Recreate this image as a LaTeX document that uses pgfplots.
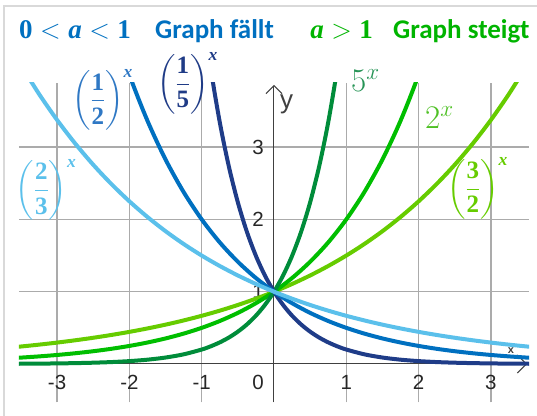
\RequirePackage{fix-cm}
\documentclass[border=0pt]{standalone}
\usepackage{amsmath}
\usepackage[no-math]{fontspec}
\setmainfont{Liberation Sans}
\newfontfamily\carlito{Carlito}
\newfontfamily\mathserif{Liberation Serif}
\usepackage{pgfplots}
\pgfplotsset{compat=1.18}
\usetikzlibrary{arrows.meta}
\definecolor{cLightBlue}{HTML}{5BC0EB}
\definecolor{cBlue}{HTML}{0070C0}
\definecolor{cNavy}{HTML}{1F3C88}
\definecolor{cDarkGreen}{HTML}{008C3A}
\definecolor{cGreen}{HTML}{00BE00}
\definecolor{cYellowGreen}{HTML}{66CC00}
\definecolor{lBlue}{HTML}{2F78C4}
\definecolor{lNavy}{HTML}{1F3B86}
\definecolor{lDarkGreen}{HTML}{269456}
\definecolor{lGreen}{HTML}{4EC024}
\definecolor{tBlue}{HTML}{0070C0}
\definecolor{tGreen}{HTML}{00B400}
\definecolor{gridgray}{HTML}{ABABAB}
\definecolor{axisgray}{HTML}{404040}
\definecolor{framegray}{HTML}{D9D9D9}
\definecolor{ticktext}{HTML}{262626}
\newcommand{\bvar}[1]{\text{\mathserif\bfseries\itshape #1}}
\newcommand{\bnum}[1]{\text{\mathserif\bfseries #1}}
\newcommand{\fraclab}[2]{$\biggl(\dfrac{\bnum{#1}}{\bnum{#2}}\biggr)^{\bvar{x}}$}
\tikzset{ticklab/.style={anchor=center, inner sep=0pt, text=ticktext, font=\fontsize{20.5}{24}\selectfont},
  yticklab/.style={anchor=east, inner sep=0pt, text=ticktext, font=\fontsize{20.5}{24}\selectfont},
  fraclabel/.style={anchor=center, inner sep=0pt, font=\fontsize{25}{30}\selectfont},
  powlabel/.style={anchor=base west, inner sep=0pt, font=\fontsize{33}{40}\selectfont},
  titlemath/.style={anchor=base west, inner sep=0pt, font=\fontsize{27}{32}\selectfont},
  titletext/.style={anchor=base west, inner sep=0pt, font=\carlito\bfseries\fontsize{27}{32}\selectfont}}
\pgfplotsset{base/.style={at={(0pt,0pt)}, anchor=south west,
  x=72.3pt, y=72.3pt,
  xmin=-3.53, xmax=3.53, ymin=-0.53, ymax=3.89}}
\begin{document}
\begin{tikzpicture}
% grid only
\begin{axis}[base,
  axis line style={draw=none},
  xtick={-3,-2,-1,1,2,3}, ytick={1,2,3},
  xticklabels={}, yticklabels={},
  major tick length=0pt,
  grid=major,
  grid style={line width=1.5pt, color=gridgray},
]
\addplot[draw=none, forget plot] coordinates {(0,0) (1,1)};
\end{axis}
% labels and axis lines under the curves
\begin{scope}[x=72.3pt, y=72.3pt, shift={(255.219pt,38.319pt)}]
\draw[framegray, line width=2.5pt] (-3.734,-1) -- (-3.734,4.952) -- (4,4.952);
\node[ticklab] at (-3,-0.249) {-3};
\node[ticklab] at (-2,-0.249) {-2};
\node[ticklab] at (-1,-0.249) {-1};
\node[ticklab] at (-0.221,-0.249) {0};
\node[ticklab] at (1,-0.249) {1};
\node[ticklab] at (2,-0.249) {2};
\node[ticklab] at (3,-0.249) {3};
\node[yticklab] at (-0.138,1) {1};
\node[yticklab] at (-0.138,2) {2};
\node[yticklab] at (-0.138,3) {3};
\draw[axisgray, line width=1pt, -{Straight Barb[length=9pt,width=18pt,line width=1pt]}] (-3.53,0) -- (3.5,0);
\draw[axisgray, line width=1pt, -{Straight Barb[length=8pt,width=16pt,line width=1pt]}] (0,-0.53) -- (0,3.86);
\node[anchor=base west, inner sep=0pt, text=axisgray, font=\fontsize{26}{30}\selectfont] at (0.083,3.54) {y};
\node[anchor=center, inner sep=0pt, text=axisgray, font=\bfseries\fontsize{11}{13}\selectfont] at (3.278,0.18) {x};
\end{scope}
% curves
\begin{axis}[base, hide axis]
\addplot[cYellowGreen, line width=4pt, smooth] coordinates {
(-3.53,0.2390) (-3.5,0.2419) (-3.25,0.2677) (-3,0.2963) (-2.75,0.3279) (-2.5,0.3629) (-2.25,0.4016) (-2,0.4444) (-1.75,0.4919) (-1.5,0.5443) (-1.25,0.6024) (-1,0.6667) (-0.75,0.7378) (-0.5,0.8165) (-0.25,0.9036) (0,1) (0.25,1.1067) (0.5,1.2247) (0.75,1.3554) (1,1.5) (1.25,1.6600) (1.5,1.8371) (1.75,2.0331) (2,2.25) (2.25,2.4900) (2.5,2.7557) (2.75,3.0497) (3,3.375) (3.25,3.7351) (3.5,4.1335) (3.53,4.184)};
\addplot[cGreen, line width=4pt, smooth] coordinates {
(-3.53,0.0866) (-3.5,0.0884) (-3.25,0.1051) (-3,0.125) (-2.75,0.1487) (-2.5,0.1768) (-2.25,0.2102) (-2,0.25) (-1.75,0.2973) (-1.5,0.3536) (-1.25,0.4204) (-1,0.5) (-0.75,0.5946) (-0.5,0.7071) (-0.25,0.8409) (0,1) (0.25,1.1892) (0.5,1.4142) (0.75,1.6818) (1,2) (1.25,2.3784) (1.5,2.8284) (1.75,3.3636) (2,4) (2.25,4.7568)};
\addplot[cDarkGreen, line width=4pt, smooth] coordinates {
(-3.53,0.0034) (-3.5,0.0036) (-3.25,0.0053) (-3,0.008) (-2.75,0.0120) (-2.5,0.0179) (-2.25,0.0267) (-2,0.04) (-1.75,0.0598) (-1.5,0.0894) (-1.25,0.1337) (-1,0.2) (-0.875,0.2446) (-0.75,0.2991) (-0.625,0.3657) (-0.5,0.4472) (-0.375,0.5469) (-0.25,0.6687) (-0.125,0.8178) (0,1) (0.125,1.2228) (0.25,1.4953) (0.375,1.8286) (0.5,2.2361) (0.625,2.7344) (0.75,3.3437) (0.875,4.0888) (1,5)};
\addplot[cNavy, line width=4pt, smooth] coordinates {
(-1,5) (-0.875,4.0888) (-0.75,3.3437) (-0.625,2.7344) (-0.5,2.2361) (-0.375,1.8286) (-0.25,1.4953) (-0.125,1.2228) (0,1) (0.125,0.8178) (0.25,0.6687) (0.375,0.5469) (0.5,0.4472) (0.625,0.3657) (0.75,0.2991) (0.875,0.2446) (1,0.2) (1.25,0.1337) (1.5,0.0894) (1.75,0.0598) (2,0.04) (2.25,0.0267) (2.5,0.0179) (2.75,0.0120) (3,0.008) (3.25,0.0053) (3.5,0.0036) (3.53,0.0034)};
\addplot[cBlue, line width=4pt, smooth] coordinates {
(-2.25,4.7568) (-2,4) (-1.75,3.3636) (-1.5,2.8284) (-1.25,2.3784) (-1,2) (-0.75,1.6818) (-0.5,1.4142) (-0.25,1.1892) (0,1) (0.25,0.8409) (0.5,0.7071) (0.75,0.5946) (1,0.5) (1.25,0.4204) (1.5,0.3536) (1.75,0.2973) (2,0.25) (2.25,0.2102) (2.5,0.1768) (2.75,0.1487) (3,0.125) (3.25,0.1051) (3.5,0.0884) (3.53,0.0866)};
\addplot[cLightBlue, line width=4pt, smooth] coordinates {
(-3.53,4.184) (-3.5,4.1335) (-3.25,3.7351) (-3,3.375) (-2.75,3.0497) (-2.5,2.7557) (-2.25,2.4900) (-2,2.25) (-1.75,2.0331) (-1.5,1.8371) (-1.25,1.6600) (-1,1.5) (-0.75,1.3554) (-0.5,1.2247) (-0.25,1.1067) (0,1) (0.25,0.9036) (0.5,0.8165) (0.75,0.7378) (1,0.6667) (1.25,0.6024) (1.5,0.5443) (1.75,0.4919) (2,0.4444) (2.25,0.4016) (2.5,0.3629) (2.75,0.3279) (3,0.2963) (3.25,0.2677) (3.5,0.2419) (3.53,0.2390)};
\end{axis}
% curve labels and title
\begin{scope}[x=72.3pt, y=72.3pt, shift={(255.219pt,38.319pt)}]
\node[fraclabel, text=cLightBlue] at (-3.154,2.407) {\fraclab{2}{3}};
\node[fraclabel, text=lBlue] at (-2.372,3.651) {\fraclab{1}{2}};
\node[fraclabel, text=lNavy] at (-1.196,3.880) {\fraclab{1}{5}};
\node[fraclabel, text=cYellowGreen] at (2.815,2.427) {\fraclab{3}{2}};
\node[powlabel, text=lDarkGreen] at (1.065,3.763) {$5^{x}$};
\node[powlabel, text=lGreen] at (2.088,3.264) {$2^{x}$};
\node[titlemath, text=tBlue] at (-3.527,4.509) {$\bnum{0}<\bvar{a}<\bnum{1}$};
\node[titletext, text=tBlue] at (-1.646,4.509) {Graph fällt};
\node[titlemath, text=tGreen] at (0.500,4.509) {$\bvar{a}>\bnum{1}$};
\node[titletext, text=tGreen] at (1.646,4.509) {Graph steigt};
\coordinate (TL) at (-3.790,5.035);
\coordinate (BR) at (3.638,-0.719);
\end{scope}
\pgfresetboundingbox
\path[use as bounding box] (TL) rectangle (BR);
\end{tikzpicture}
\end{document}
